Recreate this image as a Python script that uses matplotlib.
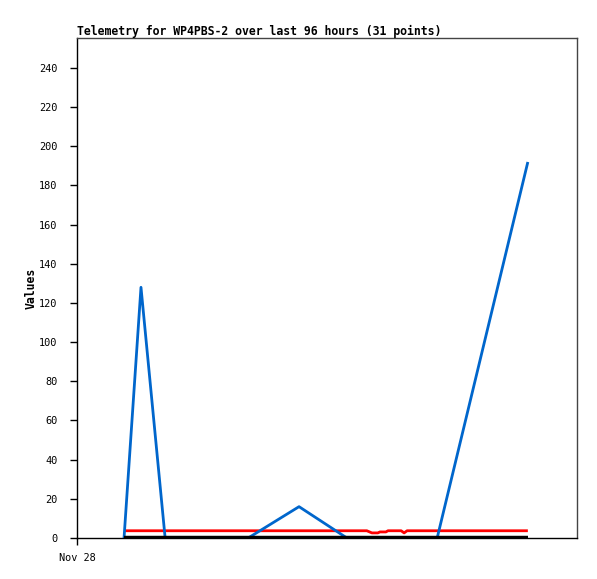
#!/usr/bin/env python

import matplotlib
matplotlib.use("Agg")
import matplotlib.pyplot as plt

# hours since the left edge of the chart (Nov 28 00:00)
blue_hours = [11.1, 15.1, 20.8, 40.4, 52.4, 63.7, 85.0, 106.4]
blue_values = [0, 128, 0, 0, 16, 0, 0, 192]

red_hours = [11.1, 68.4, 69.6, 71.0, 71.5, 72.9, 73.4, 76.5, 77.2, 77.9, 106.4]
red_values = [3.7, 3.7, 2.6, 2.6, 3.1, 3.1, 3.7, 3.7, 2.6, 3.7, 3.7]

black_hours = [11.1, 106.4]
black_values = [0, 0]

x_ticks = [0]
x_tick_labels = ["Nov 28"]
y_ticks = list(range(0, 241, 20))

TITLE = "Telemetry for WP4PBS-2 over last 96 hours (31 points)"

MONO = ["DejaVu Sans Mono"]

fig = plt.figure(figsize=(5.97, 5.79), dpi=100)
ax = fig.add_axes([77 / 597, 41 / 579, 500 / 597, 500 / 579])

ax.plot(red_hours, red_values, color="#ff0000", linewidth=2.0, solid_capstyle="butt")
ax.plot(blue_hours, blue_values, color="#0066cc", linewidth=2.0, solid_capstyle="butt")
ax.plot(black_hours, black_values, color="black", linewidth=3.2, solid_capstyle="butt")

ax.set_xlim(0, 118)
ax.set_ylim(0, 255.3)

ax.set_yticks(y_ticks)
ax.set_yticklabels([str(v) for v in y_ticks], family=MONO, fontsize=7.4)
ax.set_xticks(x_ticks)
ax.set_xticklabels(x_tick_labels, family=MONO, fontsize=7.4)
ax.tick_params(axis="y", direction="out", length=5, width=1, pad=9)
ax.tick_params(axis="x", direction="out", length=5, width=1, pad=6)

ax.spines["left"].set_color("black")
ax.spines["bottom"].set_color("black")
ax.spines["top"].set_color("#444444")
ax.spines["right"].set_color("#444444")
for s in ax.spines.values():
    s.set_linewidth(1)

ax.set_title(TITLE, loc="left", family=MONO, fontsize=8.3, fontweight="bold", pad=2)
ax.set_ylabel("Values", family=MONO, fontsize=8.3, fontweight="bold", labelpad=1)

fig.savefig("out.png", dpi=100)
